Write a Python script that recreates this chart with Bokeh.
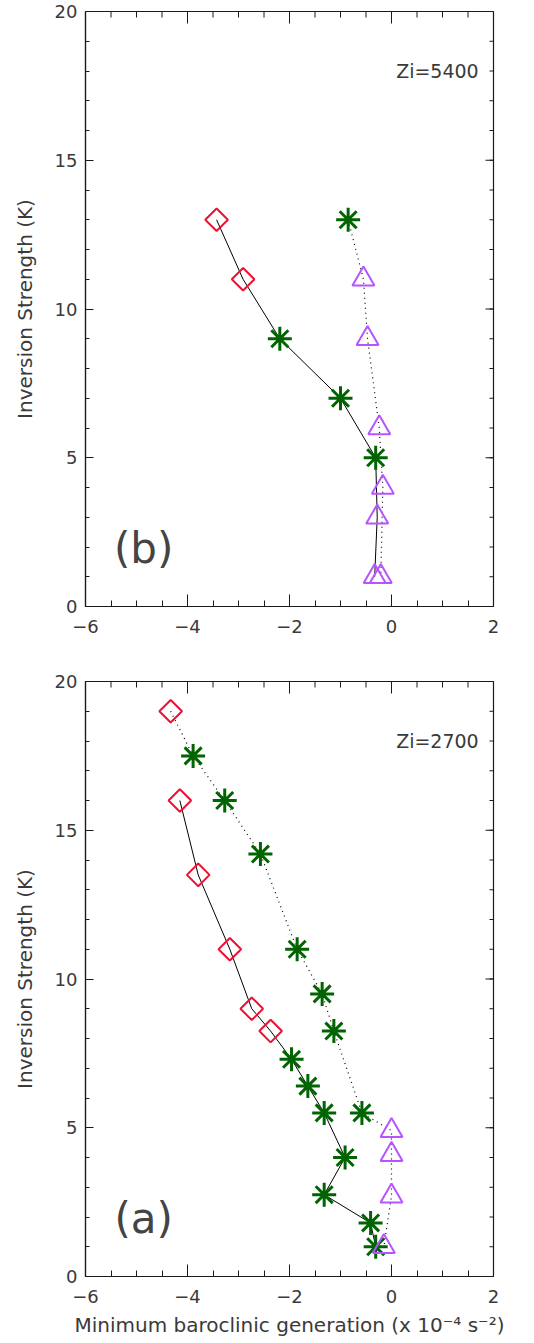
import math
from bokeh.plotting import figure
from bokeh.models import FixedTicker, Label, Range1d
from bokeh.layouts import column
from bokeh.embed import file_html
from bokeh.resources import INLINE

# ---------------- data ----------------
x_ticks = [-6, -4, -2, 0, 2]
x_tick_labels = ["\u22126", "\u22124", "\u22122", "0", "2"]
x_minor_ticks = [-6, -5.5, -5, -4.5, -4, -3.5, -3, -2.5, -2, -1.5, -1, -0.5, 0, 0.5, 1, 1.5, 2]
y_ticks = [0, 5, 10, 15, 20]
y_tick_labels = ["0", "5", "10", "15", "20"]
y_minor_ticks = [0, 1, 2, 3, 4, 5, 6, 7, 8, 9, 10, 11, 12, 13, 14, 15, 16, 17, 18, 19, 20]
x_lo, x_hi = -6, 2
y_lo, y_hi = 0, 20

# Panel (b): Zi = 5400
b_solid_x = [-3.43, -2.91, -2.19, -1.00, -0.31, -0.28, -0.33]
b_solid_y = [13, 11, 9, 7, 5, 3, 1]
b_solid_m = ["D", "D", "S", "S", "S", "T", "T"]
b_dotted_x = [-0.85, -0.55, -0.47, -0.24, -0.17, -0.21]
b_dotted_y = [13, 11, 9, 6, 4, 1]
b_dotted_m = ["S", "T", "T", "T", "T", "T"]

# Panel (a): Zi = 2700
a_solid_x = [-4.15, -3.79, -3.17, -2.74, -2.37, -1.96, -1.64, -1.32, -0.91, -1.32, -0.41, -0.31]
a_solid_y = [16, 13.5, 11, 9, 8.25, 7.3, 6.4, 5.5, 4, 2.75, 1.8, 1.0]
a_solid_m = ["D", "D", "D", "D", "D", "S", "S", "S", "S", "S", "S", "S"]
a_dotted_x = [-4.33, -3.89, -3.27, -2.57, -1.85, -1.36, -1.13, -0.58, 0.0, 0.0, 0.0, -0.15]
a_dotted_y = [19, 17.5, 16, 14.2, 11, 9.5, 8.25, 5.5, 4.9, 4.1, 2.7, 1.0]
a_dotted_m = ["D", "S", "S", "S", "S", "S", "S", "S", "T", "T", "T", "T"]

FONT = "DejaVu Sans"
TXT = "#3a3a3a"
AX = "#1a1a1a"
RED = "#ee1133"
GREEN = "#006400"
PURPLE = "#b455ff"


def style_axis(ax, is_x):
    ticks = x_ticks if is_x else y_ticks
    texts = x_tick_labels if is_x else y_tick_labels
    ax.ticker = FixedTicker(ticks=ticks,
                            minor_ticks=x_minor_ticks if is_x else y_minor_ticks)
    ax.major_tick_in = 12 if is_x else 8
    ax.minor_tick_in = 6 if is_x else 4
    ax.major_tick_out = 0
    ax.minor_tick_out = 0
    ax.axis_line_color = AX
    ax.major_tick_line_color = AX
    ax.minor_tick_line_color = AX
    ax.axis_line_width = 1.2
    ax.major_label_overrides = {t: s for t, s in zip(ticks, texts)}
    ax.major_label_text_font = FONT
    ax.major_label_text_font_size = "18px"
    ax.major_label_text_color = TXT
    ax.major_label_standoff = 13 if is_x else 8


def mirror_ticks(p):
    # inward ticks on the top and right edges of the frame
    p.ray(x=x_ticks, y=[y_hi] * len(x_ticks), length=12, length_units="screen",
          angle=-math.pi / 2, line_color=AX, line_width=1)
    p.ray(x=x_minor_ticks, y=[y_hi] * len(x_minor_ticks), length=6, length_units="screen",
          angle=-math.pi / 2, line_color=AX, line_width=1)
    p.ray(x=[x_hi] * len(y_ticks), y=y_ticks, length=8, length_units="screen",
          angle=math.pi, line_color=AX, line_width=1)
    p.ray(x=[x_hi] * len(y_minor_ticks), y=y_minor_ticks, length=4, length_units="screen",
          angle=math.pi, line_color=AX, line_width=1)


def make_panel(sx, sy, sm, dx, dy, dm, zi_text, tag, show_xlabel, btop, bbot):
    p = figure(frame_width=408, frame_height=595,
               x_range=Range1d(x_lo, x_hi), y_range=Range1d(y_lo, y_hi),
               output_backend="svg", toolbar_location=None,
               min_border_left=85, min_border_right=41,
               min_border_top=btop, min_border_bottom=bbot,
               background_fill_color="white", border_fill_color="white")
    p.grid.visible = False
    p.outline_line_color = AX
    p.outline_line_width = 1.2

    style_axis(p.xaxis[0], True)
    style_axis(p.yaxis[0], False)
    p.yaxis[0].axis_label = "Inversion Strength (K)"
    p.yaxis[0].axis_label_text_font = FONT
    p.yaxis[0].axis_label_text_font_size = "20px"
    p.yaxis[0].axis_label_text_font_style = "normal"
    p.yaxis[0].axis_label_text_color = TXT
    p.yaxis[0].axis_label_standoff = 15
    if show_xlabel:
        p.xaxis[0].axis_label = "Minimum baroclinic generation (x 10\u207b\u2074 s\u207b\u00b2)"
        p.xaxis[0].axis_label_text_font = FONT
        p.xaxis[0].axis_label_text_font_size = "20px"
        p.xaxis[0].axis_label_text_font_style = "normal"
        p.xaxis[0].axis_label_text_color = TXT
        p.xaxis[0].axis_label_standoff = 7

    mirror_ticks(p)

    p.line(sx, sy, line_color="black", line_width=1)
    p.line(dx, dy, line_color="black", line_width=1.2, line_dash="1 4")

    for xs, ys, ms in ((sx, sy, sm), (dx, dy, dm)):
        dxs = [x for x, m in zip(xs, ms) if m == "D"]
        dys = [y for y, m in zip(ys, ms) if m == "D"]
        p.scatter(dxs, dys, marker="square", angle=math.pi / 4, size=16,
                  fill_color=None, line_color=RED, line_width=2)
        axs = [x for x, m in zip(xs, ms) if m == "S"]
        ays = [y for y, m in zip(ys, ms) if m == "S"]
        p.scatter(axs, ays, marker="asterisk", size=24,
                  line_color=GREEN, line_width=3)
        txs = [x for x, m in zip(xs, ms) if m == "T"]
        tys = [y for y, m in zip(ys, ms) if m == "T"]
        p.scatter(txs, tys, marker="triangle", size=22,
                  fill_color=None, line_color=PURPLE, line_width=2)

    p.add_layout(Label(x=1.71, y=18, text=zi_text, text_align="right",
                       text_baseline="alphabetic", text_font=FONT,
                       text_font_size="19px", text_color=TXT))
    p.add_layout(Label(x=-4.86, y=1.95, text=tag, text_align="center",
                       text_baseline="alphabetic", text_font=FONT,
                       text_font_size="42px", text_color="#444444"))
    return p


p1 = make_panel(b_solid_x, b_solid_y, b_solid_m, b_dotted_x, b_dotted_y, b_dotted_m,
                "Zi=5400", "(b)", False, 11, 59)
p2 = make_panel(a_solid_x, a_solid_y, a_solid_m, a_dotted_x, a_dotted_y, a_dotted_m,
                "Zi=2700", "(a)", True, 16, 67)

layout = column(p1, p2, spacing=0)
open("out.html", "w").write(file_html(layout, INLINE))
